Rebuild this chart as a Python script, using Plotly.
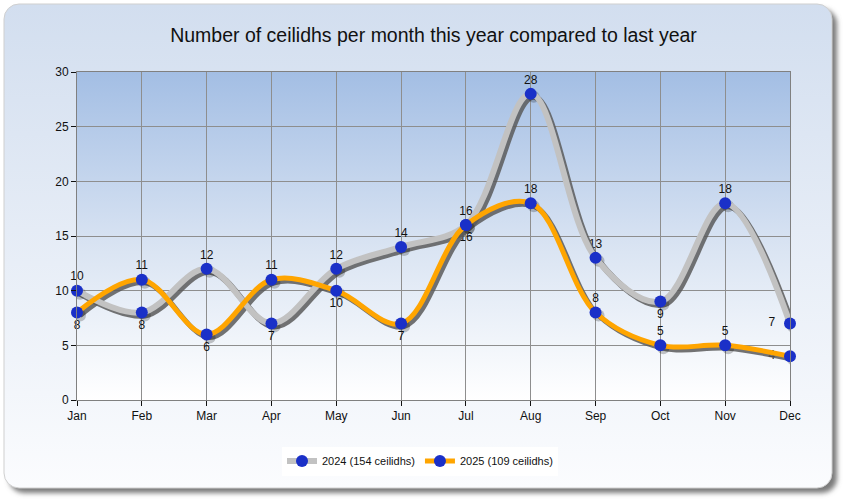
import base64
import plotly.graph_objects as go

months = ["Jan", "Feb", "Mar", "Apr", "May", "Jun", "Jul", "Aug", "Sep", "Oct", "Nov", "Dec"]
vals_2024 = [10, 8, 12, 7, 12, 14, 16, 28, 13, 9, 18, 7]
vals_2025 = [8, 11, 6, 11, 10, 7, 16, 18, 8, 5, 5, 4]
pos_2024 = ["top center", "bottom center", "top center", "bottom center", "top center", "top center",
            "top center", "top center", "top center", "bottom center", "top center", "middle left"]
pos_2025 = ["bottom center", "top center", "bottom center", "top center", "bottom center", "bottom center",
            "bottom center", "top center", "top center", "top center", "top center", "middle left"]
name_2024 = "2024 (154 ceilidhs)"
name_2025 = "2025 (109 ceilidhs)"
title = "Number of ceilidhs per month this year compared to last year"
y_ticks = [0, 5, 10, 15, 20, 25, 30]

W, H = 844, 500
L, R, T, B = 77, 54, 72, 100
PW, PH = W - L - R, H - T - B
xs = list(range(len(months)))
xmax = len(months) - 1
ymax = 30

# shadow offsets in pixels
DX, DY = 3, 3
sx = DX * xmax / PW
sy = DY * ymax / PH

svg = f'''<svg xmlns="http://www.w3.org/2000/svg" width="{W}" height="{H}" viewBox="0 0 {W} {H}">
<defs>
<linearGradient id="pg" x1="0" y1="0" x2="0" y2="1">
<stop offset="0" stop-color="#d2deef"/><stop offset="1" stop-color="#fbfcfe"/></linearGradient>
<linearGradient id="ag" x1="0" y1="0" x2="0" y2="1">
<stop offset="0" stop-color="#a3bee4"/><stop offset="0.55" stop-color="#dbe5f3"/><stop offset="1" stop-color="#ffffff"/></linearGradient>
<filter id="bl" x="-5%" y="-5%" width="110%" height="110%"><feGaussianBlur stdDeviation="2.5"/></filter>
</defs>
<rect x="0" y="0" width="{W}" height="{H}" fill="#ffffff"/>
<rect x="9" y="9" width="828" height="484" rx="15" ry="15" fill="#7a7a7a" filter="url(#bl)"/>
<rect x="4" y="4" width="828" height="484" rx="15" ry="15" fill="url(#pg)" stroke="#d0d0d0" stroke-width="1"/>
<rect x="{L}" y="{T}" width="{PW}" height="{PH}" fill="url(#ag)"/>
</svg>'''
src = "data:image/svg+xml;base64," + base64.b64encode(svg.encode()).decode()

fig = go.Figure()

# labels on the base axes (invisible markers set the label offset)
for vals, pos in [(vals_2024, pos_2024), (vals_2025, pos_2025)]:
    fig.add_trace(go.Scatter(
        x=xs, y=vals, mode="markers+text", xaxis="x", yaxis="y",
        marker=dict(size=[22 if p == "middle left" else 10 for p in pos], opacity=0),
        text=[str(v) for v in vals], textposition=pos,
        textfont=dict(family="Liberation Sans", size=12, color="#111111"),
        showlegend=False, hoverinfo="skip", cliponaxis=False))

series = [(vals_2024, "#c2c2c2", 6), (vals_2025, "#ffa500", 5)]
# shadows
for vals, col, w in series:
    fig.add_trace(go.Scatter(
        x=xs, y=vals, mode="lines+markers", xaxis="x2", yaxis="y2",
        line=dict(color="rgba(90,90,90,0.85)", width=w, shape="spline", smoothing=1.0),
        marker=dict(size=12, color="rgba(0,0,0,0.22)"),
        showlegend=False, hoverinfo="skip"))
# main lines
for (vals, col, w), nm in zip(series, [name_2024, name_2025]):
    fig.add_trace(go.Scatter(
        x=xs, y=vals, mode="lines+markers", xaxis="x3", yaxis="y3", name=nm,
        line=dict(color=col, width=w, shape="spline", smoothing=1.0),
        marker=dict(size=12, color="#1a30c8"),
        cliponaxis=False))

axfont = dict(family="Liberation Sans", size=12, color="#111111")
fig.update_layout(
    width=W, height=H,
    margin=dict(l=L, r=R, t=T, b=B),
    paper_bgcolor="#ffffff", plot_bgcolor="rgba(0,0,0,0)",
    title=dict(text=title, x=0.5, xref="paper", y=1 - 35 / H, yanchor="middle",
               font=dict(family="Liberation Sans", size=19.5, color="#111111")),
    xaxis=dict(range=[0, xmax], tickvals=xs, ticktext=months, showgrid=True,
               gridcolor="#8e8e8e", gridwidth=1, zeroline=False, showline=True,
               linecolor="#808080", mirror=True, ticks="outside", ticklen=5,
               tickcolor="#111111", tickfont=axfont),
    yaxis=dict(range=[0, ymax], tickvals=y_ticks, showgrid=True, gridcolor="#8e8e8e",
               gridwidth=1, zeroline=False, showline=True, linecolor="#808080", mirror=True,
               ticks="outside", ticklen=5, tickcolor="#111111", tickfont=axfont),
    xaxis2=dict(range=[-sx, xmax - sx], overlaying="x", visible=False),
    yaxis2=dict(range=[sy, ymax + sy], overlaying="y", visible=False),
    xaxis3=dict(range=[0, xmax], overlaying="x", visible=False),
    yaxis3=dict(range=[0, ymax], overlaying="y", visible=False),
    legend=dict(orientation="h", x=(420 - L) / PW, xanchor="center",
                y=(H - B - 461) / PH, yanchor="middle", bgcolor="#ffffff",
                font=dict(family="Liberation Sans", size=11, color="#111111"),
                itemwidth=30),
    images=[dict(source=src, xref="paper", yref="paper", x=-L / PW, y=1 + T / PH,
                 sizex=W / PW, sizey=H / PH, xanchor="left", yanchor="top",
                 sizing="stretch", layer="below")],
    showlegend=True,
)

fig.write_html("out.html", config={"displayModeBar": False},
               post_script="document.body.style.margin='0';")
